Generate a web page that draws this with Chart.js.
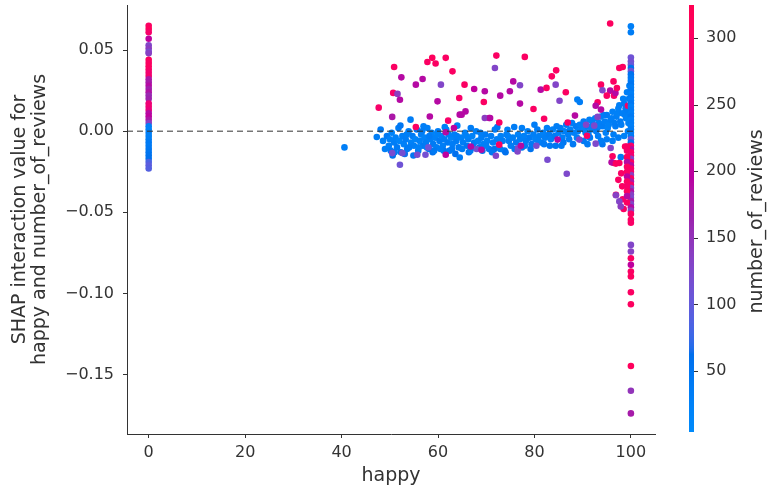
<!DOCTYPE html>
<html>
<head>
<meta charset="utf-8">
<script src="https://cdn.jsdelivr.net/npm/chart.js@4.4.0/dist/chart.umd.min.js"></script>
<style>
  html, body { margin: 0; padding: 0; background: #ffffff; }
  #wrap { width: 768px; height: 492px; }
</style>
</head>
<body>
<div id="wrap"><canvas id="dependence" width="768" height="492"></canvas></div>
<script>
// tick labels
var happyTicks = [0, 20, 40, 60, 80, 100];
var shapTicks = [-0.15, -0.10, -0.05, 0.00, 0.05];
var reviewTicks = [50, 100, 150, 200, 250, 300];

// colour range of number_of_reviews
var reviewsMin = 4;
var reviewsMax = 325;

// rows are [happy, SHAP interaction value, number_of_reviews]
var happyZero = [
  [0, 0.065, 300], [0, 0.063, 310], [0, 0.061, 290], [0, 0.057, 200],
  [0, 0.053, 130], [0, 0.051, 140], [0, 0.049, 120], [0, 0.048, 135],
  [0, 0.044, 310], [0, 0.042, 300], [0, 0.040, 305], [0, 0.038, 295],
  [0, 0.036, 280], [0, 0.034, 285], [0, 0.032, 180], [0, 0.030, 175],
  [0, 0.028, 190], [0, 0.026, 170], [0, 0.024, 185], [0, 0.022, 160],
  [0, 0.020, 165], [0, 0.017, 270], [0, 0.015, 275], [0, 0.013, 260],
  [0, 0.011, 190], [0, 0.009, 200], [0, 0.007, 180], [0, 0.005, 140],
  [0, 0.003, 30], [0, 0.001, 25], [0, -0.001, 35], [0, -0.003, 28],
  [0, -0.005, 32], [0, -0.007, 40], [0, -0.009, 38], [0, -0.011, 45],
  [0, -0.013, 50], [0, -0.015, 55], [0, -0.017, 60], [0, -0.019, 85],
  [0, -0.021, 95], [0, -0.023, 90]
];

// low review counts, the band along zero
var happyBand = [
  [40.6, -0.0100, 30], [47.3, -0.0036, 35], [48.1, 0.0010, 40], [48.6, -0.0060, 28],
  [49.4, -0.0030, 45], [49.8, -0.0090, 30], [50.2, -0.0120, 38], [50.4, -0.0010, 22],
  [50.6, -0.0150, 60], [50.9, -0.0070, 33], [51.2, -0.0040, 27], [51.5, -0.0100, 41],
  [51.8, 0.0020, 36], [52.0, -0.0060, 20], [52.2, 0.0035, 48], [52.3, -0.0130, 55],
  [52.6, -0.0030, 30], [52.9, -0.0080, 25], [53.1, -0.0140, 65], [53.3, -0.0050, 34],
  [53.6, -0.0110, 42], [53.9, 0.0000, 29], [54.3, 0.0071, 35], [54.4, -0.0070, 24],
  [54.7, -0.0030, 38], [55.0, -0.0090, 31], [55.3, -0.0050, 19], [55.6, 0.0010, 44],
  [55.9, -0.0120, 37], [56.2, -0.0060, 26], [56.5, -0.0020, 33], [56.9, -0.0090, 40],
  [57.0, 0.0030, 30], [57.2, -0.0040, 23], [57.5, -0.0070, 36], [57.8, 0.0020, 29],
  [58.1, -0.0110, 47], [58.4, -0.0050, 32], [58.7, -0.0010, 21], [58.9, -0.0130, 58],
  [59.0, -0.0080, 39], [59.4, -0.0040, 28], [59.7, -0.0100, 35], [60.0, 0.0000, 30],
  [60.3, -0.0060, 42], [60.7, -0.0030, 25], [61.0, -0.0090, 33], [61.2, -0.0120, 50],
  [61.3, -0.0050, 37], [61.4, 0.0025, 31], [61.7, 0.0010, 27], [62.0, -0.0070, 40],
  [62.4, -0.0120, 45], [62.7, -0.0040, 22], [63.0, -0.0080, 34], [63.4, -0.0020, 30],
  [63.6, -0.0140, 62], [63.8, -0.0060, 36], [64.0, 0.0034, 28], [64.3, -0.0100, 41],
  [64.5, -0.0162, 38], [64.8, -0.0040, 26], [65.2, -0.0070, 33], [65.6, -0.0010, 29],
  [66.0, -0.0090, 44], [66.3, -0.0050, 31], [66.4, -0.0130, 55], [66.7, -0.0120, 39],
  [66.8, 0.0020, 35], [67.1, -0.0030, 24], [67.5, -0.0070, 37], [67.9, 0.0000, 30],
  [68.3, -0.0060, 27], [68.6, -0.0100, 43], [69.0, -0.0040, 33], [69.2, -0.0120, 52],
  [69.4, -0.0080, 29], [69.8, -0.0020, 36], [70.2, -0.0060, 25], [70.6, -0.0110, 40],
  [71.0, -0.0030, 32], [71.4, -0.0070, 28], [71.7, -0.0110, 57], [71.8, 0.0010, 34],
  [72.2, -0.0050, 30], [72.3, 0.0025, 38], [72.6, -0.0090, 42], [73.0, -0.0030, 26],
  [73.4, -0.0060, 35], [73.8, -0.0120, 46], [74.0, -0.0130, 60], [74.2, -0.0020, 31],
  [74.4, 0.0009, 27], [74.7, -0.0060, 37], [75.1, -0.0090, 33], [75.5, -0.0040, 29],
  [75.8, 0.0026, 36], [76.2, -0.0070, 40], [76.6, -0.0020, 24], [77.0, -0.0050, 32],
  [77.4, -0.0100, 45], [77.4, 0.0020, 30], [77.8, -0.0030, 28], [78.2, -0.0060, 35],
  [78.6, 0.0000, 26], [79.0, -0.0040, 38], [79.2, -0.0110, 55], [79.4, -0.0080, 41],
  [79.8, -0.0020, 30], [80.0, 0.0040, 34], [80.2, -0.0050, 27], [80.6, 0.0010, 36],
  [81.0, -0.0030, 31], [81.4, -0.0070, 43], [81.8, -0.0010, 25], [82.2, -0.0040, 33],
  [82.6, 0.0020, 29], [83.0, -0.0020, 37], [83.4, -0.0050, 30], [83.8, 0.0010, 26],
  [84.2, -0.0030, 39], [84.4, -0.0090, 50], [84.6, 0.0030, 32], [85.0, -0.0010, 28],
  [85.4, 0.0020, 35], [85.8, -0.0040, 31], [86.0, -0.0070, 47], [86.2, 0.0000, 24],
  [86.6, 0.0040, 36], [87.0, -0.0020, 30], [87.4, 0.0010, 27], [87.8, 0.0050, 33],
  [88.0, -0.0080, 44], [88.2, -0.0010, 29], [88.6, 0.0030, 38], [88.9, 0.0195, 30],
  [89.0, 0.0000, 26], [89.4, 0.0180, 35], [89.4, 0.0040, 31], [89.8, 0.0020, 28],
  [90.2, 0.0060, 34], [90.2, -0.0060, 40], [90.4, 0.0010, 22], [90.6, -0.0010, 25],
  [91.0, 0.0030, 37], [91.2, -0.0020, 30], [91.4, 0.0070, 30], [91.5, -0.0040, 42],
  [91.8, 0.0010, 27], [92.0, 0.0060, 26], [92.2, 0.0040, 33], [92.6, 0.0080, 29],
  [92.8, 0.0000, 35], [93.0, 0.0020, 36], [93.2, -0.0030, 34], [93.4, 0.0050, 31],
  [93.6, 0.0030, 29], [93.8, 0.0090, 26], [94.1, -0.0080, 48], [94.2, 0.0030, 34],
  [94.4, 0.0100, 33], [94.6, 0.0060, 30], [94.8, -0.0010, 28], [95.0, 0.0100, 38],
  [95.0, -0.0050, 36], [95.2, 0.0020, 24], [95.4, 0.0040, 27], [95.8, 0.0070, 33],
  [96.0, 0.0080, 30], [96.2, 0.0120, 29], [96.4, -0.0020, 32], [96.6, 0.0050, 35],
  [96.8, 0.0030, 38], [97.0, 0.0090, 31], [97.2, 0.0110, 27], [97.4, 0.0140, 26],
  [97.4, -0.0040, 35], [97.6, 0.0160, 31], [97.8, 0.0060, 37], [97.9, -0.0160, 40],
  [98.0, 0.0040, 35], [98.2, 0.0110, 30], [98.4, 0.0200, 28], [98.6, 0.0170, 34],
  [98.6, -0.0030, 27], [98.8, 0.0100, 33], [98.9, 0.0140, 36], [99.0, 0.0080, 28],
  [99.2, 0.0240, 30], [99.3, 0.0130, 36], [99.4, 0.0000, 31], [99.5, 0.0050, 26],
  [99.6, 0.0200, 32], [99.7, 0.0280, 29],
  [49.0, -0.0110, 33], [50.0, -0.0050, 27], [51.0, -0.0130, 40], [53.5, -0.0020, 31],
  [54.0, -0.0100, 36], [54.9, -0.0150, 48], [56.0, -0.0100, 29], [56.7, 0.0000, 35],
  [57.7, -0.0100, 30], [58.2, -0.0030, 38], [59.2, -0.0120, 44], [59.9, -0.0020, 27],
  [60.5, -0.0110, 34], [62.2, -0.0020, 29], [62.9, -0.0110, 41], [63.9, -0.0030, 32],
  [65.0, -0.0110, 37], [65.9, -0.0030, 26], [67.3, -0.0100, 40], [68.8, -0.0010, 33],
  [70.0, -0.0090, 30], [71.2, -0.0130, 46], [72.9, -0.0110, 35], [74.5, -0.0030, 28],
  [75.9, -0.0110, 42], [78.0, -0.0090, 33], [80.8, -0.0060, 29], [82.0, -0.0080, 38],
  [83.2, -0.0090, 44], [85.6, -0.0090, 40], [87.2, -0.0050, 31], [88.8, -0.0040, 27],
  [91.0, -0.0080, 39], [93.8, -0.0060, 35], [96.2, -0.0060, 33],
  [50.5, -0.0135, 120], [52.1, -0.0207, 110], [52.6, -0.0135, 118], [55.7, -0.0145, 120],
  [57.4, -0.0145, 115], [58.0, -0.0100, 110], [68.0, -0.0110, 115], [72.0, -0.0151, 130],
  [76.5, -0.0125, 130], [76.6, -0.0105, 125], [80.4, -0.0090, 120], [82.7, -0.0176, 120],
  [86.7, -0.0262, 125], [89.3, -0.0052, 130], [90.7, 0.0040, 130], [92.4, 0.0034, 125],
  [92.7, -0.0077, 125]
];

// higher review counts scattered between 45 and 99
var happySpread = [
  [47.7, 0.0145, 290], [50.9, 0.0396, 300], [52.4, 0.0332, 190], [50.7, 0.0236, 290],
  [51.6, 0.0230, 140], [52.1, 0.0194, 190], [50.5, 0.0088, 180], [55.4, 0.0026, 300],
  [55.4, 0.0287, 190], [56.8, 0.0322, 190], [57.8, 0.0427, 300], [58.8, 0.0452, 310],
  [59.5, 0.0417, 300], [61.6, 0.0452, 300], [63.0, 0.0369, 300], [60.6, 0.0287, 130],
  [59.9, 0.0184, 190], [58.3, 0.0091, 190], [62.1, 0.0065, 290], [63.3, 0.0020, 200],
  [61.6, -0.0007, 190], [64.4, 0.0205, 290], [64.5, 0.0102, 190], [61.6, -0.0145, 200],
  [65.5, 0.0287, 300], [67.5, 0.0260, 200], [69.7, 0.0246, 190], [69.5, 0.0180, 300],
  [72.1, 0.0466, 300], [71.8, 0.0390, 130], [72.9, 0.0219, 190], [74.9, 0.0246, 190],
  [72.7, 0.0054, 300], [70.6, 0.0081, 200], [69.7, 0.0081, 140], [70.8, 0.0081, 190],
  [65.7, 0.0122, 190], [64.9, 0.0102, 190], [72.7, -0.0083, 300], [69.0, -0.0114, 190],
  [66.8, -0.0094, 190], [78.0, 0.0458, 300], [75.6, 0.0307, 190], [77.0, 0.0283, 130],
  [77.0, 0.0170, 190], [79.8, 0.0137, 300], [81.3, 0.0256, 190], [82.5, 0.0267, 300],
  [83.6, 0.0338, 300], [84.5, 0.0375, 300], [84.4, 0.0287, 130], [86.5, 0.0240, 300],
  [85.2, 0.0188, 130], [82.0, 0.0077, 300], [86.9, 0.0054, 300], [88.4, 0.0096, 190],
  [77.2, -0.0090, 190], [84.8, -0.0052, 190], [90.9, -0.0028, 300],
  [93.8, 0.0287, 300], [94.1, 0.0252, 130], [95.7, 0.0250, 190], [96.4, 0.0307, 300],
  [95.0, 0.0219, 300], [96.5, 0.0219, 290], [93.1, 0.0178, 300], [92.7, 0.0157, 190],
  [93.8, 0.0133, 190], [93.1, 0.0088, 130], [97.6, 0.0390, 300], [98.3, 0.0396, 305],
  [95.7, 0.0664, 305], [96.8, 0.0235, 190], [97.1, 0.0266, 300], [99.4, 0.0157, 300],
  [95.8, -0.0104, 130], [96.2, -0.0155, 300], [96.5, -0.0196, 290], [97.6, -0.0196, 300],
  [96.0, -0.0192, 190], [96.9, -0.0200, 305], [97.4, -0.0300, 300], [98.0, -0.0260, 295],
  [98.2, -0.0340, 300], [98.3, -0.0420, 290], [98.5, -0.0480, 300], [96.9, -0.0392, 300],
  [96.9, -0.0395, 135], [97.6, -0.0433, 130], [97.9, -0.0464, 140], [98.8, -0.0094, 300]
];

// happy = 100 and its neighbour column
var happyFull = [
  [100, 0.0647, 30], [100, 0.0610, 35], [100, 0.0454, 110], [100, 0.0430, 115],
  [100, 0.0410, 105], [100, 0.0390, 60], [100, 0.0370, 110], [100, 0.0350, 55],
  [100, 0.0330, 45], [100, 0.0310, 40], [100, 0.0290, 50], [100, 0.0270, 35],
  [100, 0.0250, 42], [100, 0.0230, 30], [100, 0.0210, 38], [100, 0.0190, 33],
  [100, 0.0170, 45], [100, 0.0150, 28], [100, 0.0130, 36], [100, 0.0110, 31],
  [100, 0.0090, 40], [100, 0.0070, 27], [100, 0.0050, 35], [100, 0.0030, 30],
  [100, 0.0010, 38], [100, -0.0010, 33], [100, -0.0030, 42], [100, -0.0050, 110],
  [100, -0.0070, 60], [100, -0.0090, 290], [100, -0.0110, 190], [100, -0.0130, 300],
  [100, -0.0150, 280], [100, -0.0170, 130], [100, -0.0190, 300], [100, -0.0210, 190],
  [100, -0.0230, 295], [100, -0.0250, 285], [100, -0.0270, 140], [100, -0.0290, 300],
  [100, -0.0310, 180], [100, -0.0330, 290], [100, -0.0350, 130], [100, -0.0370, 185],
  [100, -0.0390, 135], [100, -0.0410, 125], [100, -0.0430, 175], [100, -0.0450, 130],
  [100, -0.0470, 190], [100, -0.0490, 140], [100, -0.0510, 300], [100, -0.0546, 305],
  [100, -0.0565, 295], [100, -0.0701, 130], [100, -0.0742, 135], [100, -0.0783, 300],
  [100, -0.0824, 200], [100, -0.0865, 300], [100, -0.0896, 305], [100, -0.0993, 300],
  [100, -0.1067, 305], [100, -0.1448, 310], [100, -0.1600, 150], [100, -0.1740, 175],
  [99.2, -0.0094, 300], [99.2, -0.0120, 290], [99.2, -0.0160, 305], [99.2, -0.0190, 190],
  [99.2, -0.0220, 300], [99.2, -0.0250, 295], [99.2, -0.0280, 200], [99.2, -0.0310, 300],
  [99.2, -0.0340, 290], [99.2, -0.0370, 305], [99.2, -0.0400, 190], [99.2, -0.0440, 300]
];

// shap red_blue map: interpolate in Lch, then Lab -> XYZ -> sRGB
function redBlue(t) {
  t = Math.min(1, Math.max(0, t));
  var L = t < 0.5 ? 54 - 14 * (t / 0.5) : 40 + 14 * ((t - 0.5) / 0.5);
  var C = 70 + 20 * t;
  var h = 4.6588 + (0.35470565 + 2 * Math.PI - 4.6588) * t;
  var a = C * Math.cos(h), b = C * Math.sin(h);
  var fy = (L + 16) / 116, fx = fy + a / 500, fz = Math.max(0, fy - b / 200);
  function inv(f) { return f > 0.2068966 ? f * f * f : (f - 16 / 116) / 7.787; }
  var X = 0.95047 * inv(fx), Y = inv(fy), Z = 1.08883 * inv(fz);
  var lin = [
    3.24048134 * X - 1.53715152 * Y - 0.49853633 * Z,
    -0.96925495 * X + 1.87599 * Y + 0.04155593 * Z,
    0.05564664 * X - 0.20404134 * Y + 1.05731107 * Z
  ];
  var rgb = lin.map(function (v) {
    v = v <= 0.0031308 ? 12.92 * v : 1.055 * Math.pow(v, 1 / 2.4) - 0.055;
    return Math.round(255 * Math.min(1, Math.max(0, v)));
  });
  return 'rgb(' + rgb[0] + ',' + rgb[1] + ',' + rgb[2] + ')';
}

function reviewColour(n) {
  return redBlue((n - reviewsMin) / (reviewsMax - reviewsMin));
}

var rows = happyBand.concat(happySpread, happyZero, happyFull);
var points = rows.map(function (r) { return { x: r[0], y: r[1] }; });
var colours = rows.map(function (r) { return reviewColour(r[2]); });

var axisColor = '#333333';
Chart.defaults.font.family = "'DejaVu Sans', sans-serif";
Chart.defaults.color = axisColor;

function fixTicks(values) {
  return function (scale) {
    scale.ticks = values.map(function (v) { return { value: v }; });
  };
}

// pin the box size and drop the label overhang so the plot area stays put
function fixBox(width, height) {
  return function (s) {
    if (width) s.width = width;
    if (height) s.height = height;
    s.paddingTop = 0;
    s.paddingBottom = 0;
    s.paddingLeft = 0;
    s.paddingRight = 0;
  };
}

// colour bar for number_of_reviews, laid out on the 'reviews' scale
var colourBar = {
  id: 'colourBar',
  afterDraw: function (chart) {
    var s = chart.scales.reviews;
    var ctx = chart.ctx;
    var x0 = s.left + 34, w = 5;
    var top = Math.round(s.getPixelForValue(reviewsMax));
    var bottom = Math.round(s.getPixelForValue(reviewsMin));
    ctx.save();
    for (var py = top; py < bottom; py++) {
      ctx.fillStyle = reviewColour(s.getValueForPixel(py + 0.5));
      ctx.fillRect(x0, py, w, 1);
    }
    ctx.strokeStyle = axisColor;
    ctx.lineWidth = 1;
    reviewTicks.forEach(function (v) {
      var y = Math.round(s.getPixelForValue(v)) + 0.5;
      ctx.beginPath();
      ctx.moveTo(x0 + w, y);
      ctx.lineTo(x0 + w + 4, y);
      ctx.stroke();
    });
    ctx.fillStyle = axisColor;
    ctx.font = "19px 'DejaVu Sans', sans-serif";
    ctx.textAlign = 'center';
    ctx.textBaseline = 'middle';
    ctx.translate(s.right - 11, (top + bottom) / 2 + 3);
    ctx.rotate(-Math.PI / 2);
    ctx.fillText('number_of_reviews', 0, 0);
    ctx.restore();
  }
};

var chart = new Chart(document.getElementById('dependence'), {
  type: 'scatter',
  data: {
    datasets: [
      {
        data: [{ x: -4.5, y: 0 }, { x: 100.5, y: 0 }],
        showLine: true,
        borderColor: axisColor,
        borderWidth: 1,
        borderDash: [6, 4],
        pointRadius: 0
      },
      {
        data: points,
        backgroundColor: colours,
        pointRadius: 3.3,
        borderWidth: 0,
        pointHoverRadius: 3.3
      }
    ]
  },
  options: {
    responsive: false,
    devicePixelRatio: 1,
    animation: false,
    layout: { padding: { top: 5, left: 0, right: 0, bottom: 0 } },
    plugins: { legend: { display: false }, tooltip: { enabled: false } },
    scales: {
      x: {
        type: 'linear',
        position: 'bottom',
        min: -4.5,
        max: 105,
        afterBuildTicks: fixTicks(happyTicks),
        afterFit: fixBox(0, 58),
        grid: { drawOnChartArea: false, drawTicks: true, tickLength: 4, color: axisColor },
        border: { display: true, color: axisColor, width: 1 },
        ticks: { font: { size: 16 }, color: axisColor, padding: 5, maxRotation: 0 },
        title: {
          display: true,
          text: 'happy',
          font: { size: 19 },
          color: axisColor,
          padding: { top: 0, bottom: 5 }
        }
      },
      y: {
        type: 'linear',
        position: 'left',
        min: -0.1867,
        max: 0.0778,
        afterBuildTicks: fixTicks(shapTicks),
        afterFit: fixBox(127, 0),
        grid: { drawOnChartArea: false, drawTicks: true, tickLength: 4, color: axisColor },
        border: { display: true, color: axisColor, width: 1 },
        ticks: {
          font: { size: 16 },
          color: axisColor,
          padding: 9,
          callback: function (v) { return v.toFixed(2).replace('-', '\u2212'); }
        },
        title: {
          display: true,
          text: ['SHAP interaction value for', 'happy and number_of_reviews'],
          font: { size: 19, lineHeight: 1.05 },
          color: axisColor,
          padding: { top: 10, bottom: 0 }
        }
      },
      reviews: {
        type: 'linear',
        axis: 'y',
        position: 'right',
        min: 2.7,
        max: 324.8,
        afterBuildTicks: fixTicks(reviewTicks),
        afterFit: fixBox(113, 0),
        grid: { display: false, drawTicks: false },
        border: { display: false },
        ticks: { font: { size: 16 }, color: axisColor, padding: 51 }
      }
    }
  },
  plugins: [colourBar]
});
</script>
</body>
</html>
